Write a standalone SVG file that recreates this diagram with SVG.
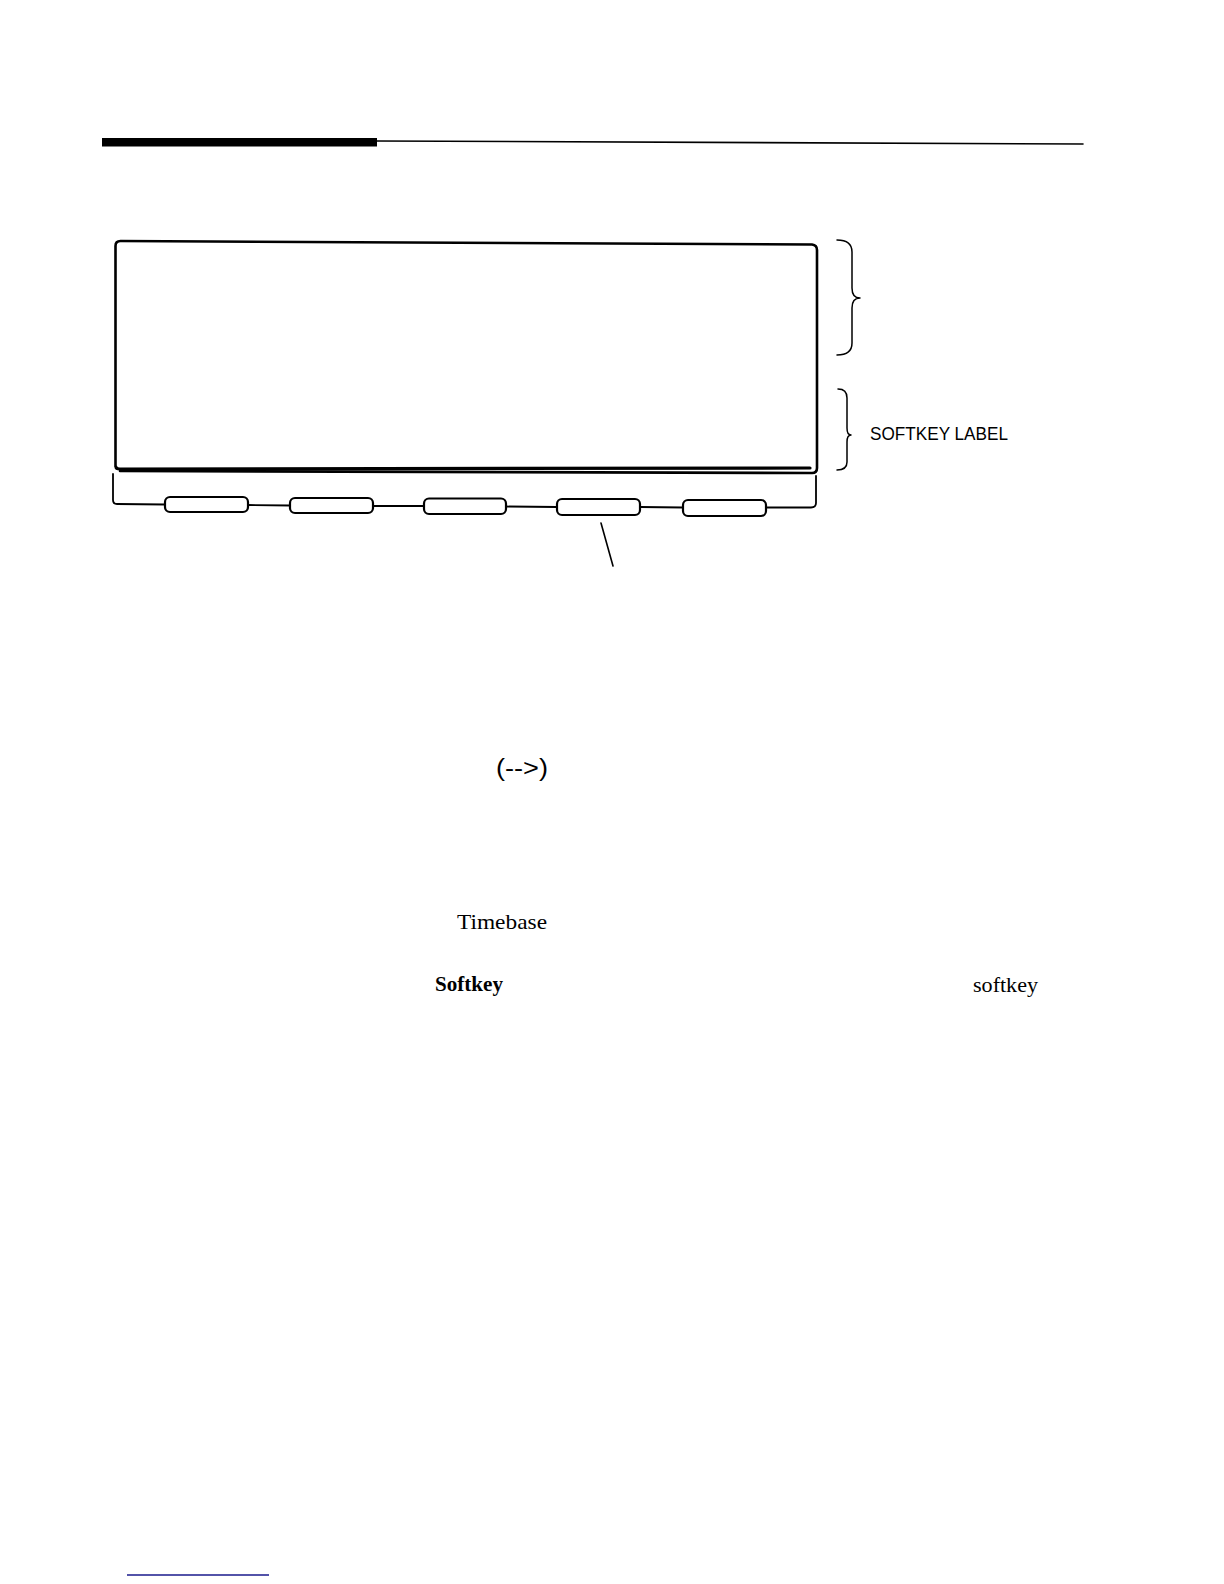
<svg xmlns="http://www.w3.org/2000/svg" width="1224" height="1584" viewBox="0 0 1224 1584">
<style>
.ln{fill:none;stroke:#000;stroke-linecap:round;stroke-linejoin:round}
.key{fill:#fff;stroke:#000;stroke-width:2.2}
.sans{font-family:"Liberation Sans",Arial,sans-serif;fill:#000}
.serif{font-family:"Liberation Serif","Times New Roman",serif;fill:#000;font-size:22px}
</style>
<rect width="1224" height="1584" fill="#fff"/>
<g id="header">
<rect x="102" y="138" width="275" height="8.5" fill="#000"/>
<path d="M377,141 L1083,144" class="ln" stroke-width="1.6"/>
</g>
<g id="screen">
<path d="M115.5,466 L115.5,246 Q115.5,241 120.5,241 L812,244.5 Q817,245 817,250 L817,468 Q817,473 812,473 L120,471" class="ln" stroke-width="2.6"/>
<path d="M116,467 Q116,469 120,469 L810,468" class="ln" stroke-width="3.2"/>
</g>
<g id="keypad">
<path d="M113,474 L113,500 Q113,504 117,504 L165,504.5 M248,505 L290,505.5 M373,506 L424,506 M506,506.5 L557,507 M640,507 L683,507.5 M766,507.5 L811,507.5 Q816,507.5 816,503 L816,476" class="ln" stroke-width="1.8"/>
<rect id="key1" class="key" x="165" y="497" width="83" height="15" rx="5"/>
<rect id="key2" class="key" x="290" y="498" width="83" height="15" rx="5"/>
<rect id="key3" class="key" x="424" y="498.5" width="82" height="15.5" rx="5"/>
<rect id="key4" class="key" x="557" y="499" width="83" height="16" rx="5"/>
<rect id="key5" class="key" x="683" y="500" width="83" height="16" rx="5"/>
</g>
<g id="brace-top">
<path d="M837,240 Q852,240 852,252 L852,288 Q852,298 860,298 Q852,298 852,308 L852,343 Q852,355 837,355" class="ln" stroke-width="1.5"/>
</g>
<g id="brace-softkey">
<path d="M838,389 Q847,389 847,398 L847,428 Q847,435 851,435 Q847,435 847,442 L847,462 Q847,470 837,470" class="ln" stroke-width="1.5"/>
<text class="sans" x="870" y="440" font-size="18" textLength="138" lengthAdjust="spacingAndGlyphs">SOFTKEY LABEL</text>
</g>
<g id="connectors">
<path d="M601,523 L613,566" class="ln" stroke-width="1.6"/>
</g>
<g id="texts">
<text class="sans" x="496" y="776" font-size="23" textLength="52" lengthAdjust="spacingAndGlyphs">(--&gt;)</text>
<text class="serif" x="457" y="929" textLength="90" lengthAdjust="spacingAndGlyphs">Timebase</text>
<text class="serif" x="435" y="991" font-weight="bold" textLength="68" lengthAdjust="spacingAndGlyphs">Softkey</text>
<text class="serif" x="973" y="991.5" textLength="65" lengthAdjust="spacingAndGlyphs">softkey</text>
</g>
<g id="footer">
<path d="M127,1575 L269,1575" fill="none" stroke="#1a1a8c" stroke-width="1.6"/>
</g>
</svg>
